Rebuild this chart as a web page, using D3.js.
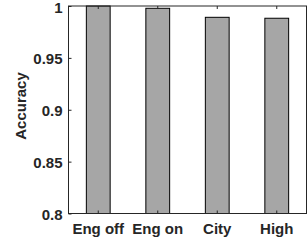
<!DOCTYPE html>
<html><head><meta charset="utf-8">
<script src="https://cdn.jsdelivr.net/npm/d3@7"></script>
<style>body{margin:0;background:#fff}svg{display:block}</style>
</head><body>
<script>
const categories = ["Eng off", "Eng on", "City", "High"];
const accuracy = [1.0, 0.9978, 0.9891, 0.9882];
const yTicks = [0.8, 0.85, 0.9, 0.95, 1];

const W = 307, H = 246;
const L = 68.5, R = 306.5, T = 6, B = 213.5;
const font = "'Liberation Sans', Arial, Helvetica, sans-serif";
const axisColor = "#262626";

const svg = d3.select("body").append("svg").attr("width", W).attr("height", H);

const x = d3.scaleBand().domain(categories).range([L, R]).padding(0);
const y = d3.scaleLinear().domain([0.8, 1]).range([B, T]);

const bw = x.bandwidth() * 0.4;
svg.append("g").selectAll("rect").data(categories).join("rect")
  .attr("x", d => x(d) + x.bandwidth() / 2 - bw / 2)
  .attr("y", (d, i) => y(accuracy[i]))
  .attr("width", bw)
  .attr("height", (d, i) => y(0.8) - y(accuracy[i]))
  .attr("fill", "#a6a6a6").attr("stroke", "#000").attr("stroke-width", 1);

// box
svg.append("rect").attr("x", L).attr("y", T).attr("width", R - L).attr("height", B - T)
  .attr("fill", "none").attr("stroke", axisColor).attr("stroke-width", 1);

const fmt = d => String(+d.toFixed(2));

const ya = svg.append("g").attr("transform", `translate(${L},0)`)
  .call(d3.axisLeft(y).tickValues(yTicks).tickFormat(fmt).tickSize(-3).tickPadding(6));
ya.select(".domain").remove();
ya.selectAll("line").attr("stroke", axisColor);
ya.selectAll("text").attr("fill", axisColor).attr("dy", "0.4em").style("font", `bold 15px ${font}`);

const xa = svg.append("g").attr("transform", `translate(0,${B})`)
  .call(d3.axisBottom(x).tickSize(-3).tickPadding(10));
xa.select(".domain").remove();
xa.selectAll("line").attr("stroke", axisColor);
xa.selectAll("text").attr("fill", axisColor).style("font", `bold 15px ${font}`);

// top ticks
const xt = svg.append("g").attr("transform", `translate(0,${T})`)
  .call(d3.axisTop(x).tickSize(-3).tickFormat(""));
xt.select(".domain").remove();
xt.selectAll("line").attr("stroke", axisColor);

svg.append("text")
  .attr("transform", `translate(26,106) rotate(-90)`)
  .attr("text-anchor", "middle")
  .attr("fill", axisColor)
  .style("font", `bold 15px ${font}`)
  .text("Accuracy");
</script>
</body></html>
